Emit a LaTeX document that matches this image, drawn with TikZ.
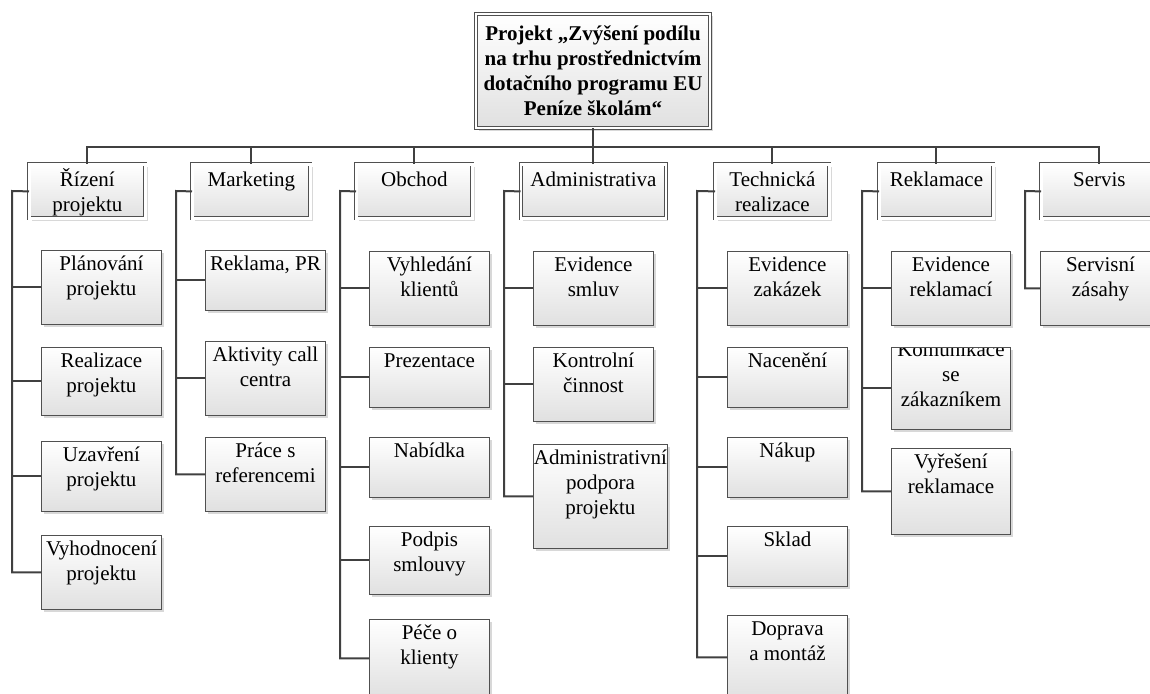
\documentclass[tikz,border=0pt]{standalone}
\usepackage{fontspec}
\setmainfont{Liberation Serif}
\usetikzlibrary{shadows}
\definecolor{boxGray}{HTML}{505050}
\definecolor{linkGray}{HTML}{404040}
\tikzstyle{shadedBox}=[shape = rectangle, inner sep = 0pt, draw = boxGray, line width = 0.9pt, top color = white, bottom color = black!12, drop shadow = {shadow xshift = 2.5pt, shadow yshift = -2.5pt, fill = black!30, opacity = 0.5}]
\tikzstyle{itemBox}=[shadedBox, anchor = north west]
\tikzstyle{catBox}=[shadedBox, anchor = north west, double = white, double distance = 2.4pt, line width = 0.8pt]
\newcommand{\boxtext}[4][20pt]{\begin{minipage}[t][#3][t]{#2}\centering\rule{0pt}{#1}#4\end{minipage}}

\begin{document}
\begin{tikzpicture}[x = 1pt, y = -1pt, font = \fontsize{21}{25}\selectfont]
\tikzstyle{rootBox}=[shadedBox, double = white, double distance = 2.4pt, line width = 0.8pt, minimum width = 234pt, minimum height = 114pt, align = center, font = \fontsize{21}{25}\selectfont\bfseries]
\tikzstyle{link}=[draw = linkGray, line width = 2pt]
\useasboundingbox (0,0) rectangle (1150,693);
\node[rootBox] (root) at (593,71) {Projekt „Zvýšení podílu\\na trhu prostřednictvím\\dotačního programu EU\\Peníze školám“};
\coordinate (bus) at (593,147);
% categories
\node[catBox] (c1) at (29,164) {\boxtext[22pt]{116pt}{54pt}{Řízení\\projektu}};
\node[catBox] (c2) at (192,164) {\boxtext[22pt]{118pt}{54pt}{Marketing}};
\node[catBox] (c3) at (356,164) {\boxtext[22pt]{116pt}{54pt}{Obchod}};
\node[catBox] (c4) at (520.5,164) {\boxtext[22pt]{145pt}{54pt}{Administrativa}};
\node[catBox] (c5) at (715,164) {\boxtext[22pt]{114pt}{54pt}{Technická\\realizace}};
\node[catBox] (c6) at (879,164) {\boxtext[22pt]{114pt}{54pt}{Reklamace}};
\node[catBox] (c7) at (1041,164) {\boxtext[22pt]{116pt}{54pt}{Servis}};
% activities
\node[itemBox] (c1a) at (41,250) {\boxtext{120pt}{74pt}{Plánování\\projektu}};
\node[itemBox] (c1b) at (41,347) {\boxtext{120pt}{68pt}{Realizace\\projektu}};
\node[itemBox] (c1c) at (41,441) {\boxtext{120pt}{70pt}{Uzavření\\projektu}};
\node[itemBox] (c1d) at (41,535) {\boxtext{120pt}{74pt}{Vyhodnocení\\projektu}};
\node[itemBox] (c2a) at (205,250) {\boxtext{120pt}{60pt}{Reklama, PR}};
\node[itemBox] (c2b) at (205,341) {\boxtext{120pt}{74pt}{Aktivity call\\centra}};
\node[itemBox] (c2c) at (205,437) {\boxtext{120pt}{74pt}{Práce s\\referencemi}};
\node[itemBox] (c3a) at (369,251) {\boxtext{120pt}{74pt}{Vyhledání\\klientů}};
\node[itemBox] (c3b) at (369,347) {\boxtext{120pt}{60pt}{Prezentace}};
\node[itemBox] (c3c) at (369,437) {\boxtext{120pt}{60pt}{Nabídka}};
\node[itemBox] (c3d) at (369,526) {\boxtext{120pt}{68pt}{Podpis\\smlouvy}};
\node[itemBox] (c3e) at (369,619) {\boxtext{120pt}{78pt}{Péče o\\klienty}};
\node[itemBox] (c4a) at (533,251) {\boxtext{120pt}{74pt}{Evidence\\smluv}};
\node[itemBox] (c4b) at (533,347) {\boxtext{120pt}{74pt}{Kontrolní\\činnost}};
\node[itemBox] (c4c) at (533,444) {\boxtext{134pt}{104pt}{Administrativní\\podpora\\projektu}};
\node[itemBox] (c5a) at (727,251) {\boxtext{120pt}{74pt}{Evidence\\zakázek}};
\node[itemBox] (c5b) at (727,347) {\boxtext{120pt}{60pt}{Nacenění}};
\node[itemBox] (c5c) at (727,437) {\boxtext{120pt}{60pt}{Nákup}};
\node[itemBox] (c5d) at (727,526) {\boxtext{120pt}{60pt}{Sklad}};
\node[itemBox] (c5e) at (727,615) {\boxtext{120pt}{84pt}{Doprava\\a montáž}};
\node[itemBox] (c6a) at (891,251) {\boxtext{119pt}{74pt}{Evidence\\reklamací}};
\node[itemBox, path picture = {\node[anchor = north, inner sep = 0pt, draw = none, fill = none] at ([yshift = 11pt]path picture bounding box.north) {\boxtext{119pt}{82pt}{Komunikace\\se\\zákazníkem}};}] (c6b) at (891,347) {\boxtext{119pt}{82pt}{}};
\node[itemBox] (c6c) at (891,448) {\boxtext{119pt}{86pt}{Vyřešení\\reklamace}};
\node[itemBox] (c7a) at (1040,251) {\boxtext{120pt}{74pt}{Servisní\\zásahy}};
% root to categories
\draw[link] (root.south) -- (bus);
\draw[link] (bus) -| (c1.north);
\draw[link] (bus) -| (c2.north);
\draw[link] (bus) -| (c3.north);
\draw[link] (bus) -| (c4.north);
\draw[link] (bus) -| (c5.north);
\draw[link] (bus) -| (c6.north);
\draw[link] (bus) -| (c7.north);
% spines
\coordinate (s1) at (12,191);
\coordinate (s2) at (176,191);
\coordinate (s3) at (340,191);
\coordinate (s4) at (504,191);
\coordinate (s5) at (697,191);
\coordinate (s6) at (862,191);
\coordinate (s7) at (1025,191);
\draw[link] (c1.west) -- (s1) |- (c1d.west);
\draw[link] (s1 |- c1a.west) -- (c1a.west);
\draw[link] (s1 |- c1b.west) -- (c1b.west);
\draw[link] (s1 |- c1c.west) -- (c1c.west);
\draw[link] (c2.west) -- (s2) |- (c2c.west);
\draw[link] (s2 |- c2a.west) -- (c2a.west);
\draw[link] (s2 |- c2b.west) -- (c2b.west);
\draw[link] (c3.west) -- (s3) |- (c3e.west);
\draw[link] (s3 |- c3a.west) -- (c3a.west);
\draw[link] (s3 |- c3b.west) -- (c3b.west);
\draw[link] (s3 |- c3c.west) -- (c3c.west);
\draw[link] (s3 |- c3d.west) -- (c3d.west);
\draw[link] (c4.west) -- (s4) |- (c4c.west);
\draw[link] (s4 |- c4a.west) -- (c4a.west);
\draw[link] (s4 |- c4b.west) -- (c4b.west);
\draw[link] (c5.west) -- (s5) |- (c5e.west);
\draw[link] (s5 |- c5a.west) -- (c5a.west);
\draw[link] (s5 |- c5b.west) -- (c5b.west);
\draw[link] (s5 |- c5c.west) -- (c5c.west);
\draw[link] (s5 |- c5d.west) -- (c5d.west);
\draw[link] (c6.west) -- (s6) |- (c6c.west);
\draw[link] (s6 |- c6a.west) -- (c6a.west);
\draw[link] (s6 |- c6b.west) -- (c6b.west);
\draw[link] (c7.west) -- (s7) |- (c7a.west);
\end{tikzpicture}
\end{document}
